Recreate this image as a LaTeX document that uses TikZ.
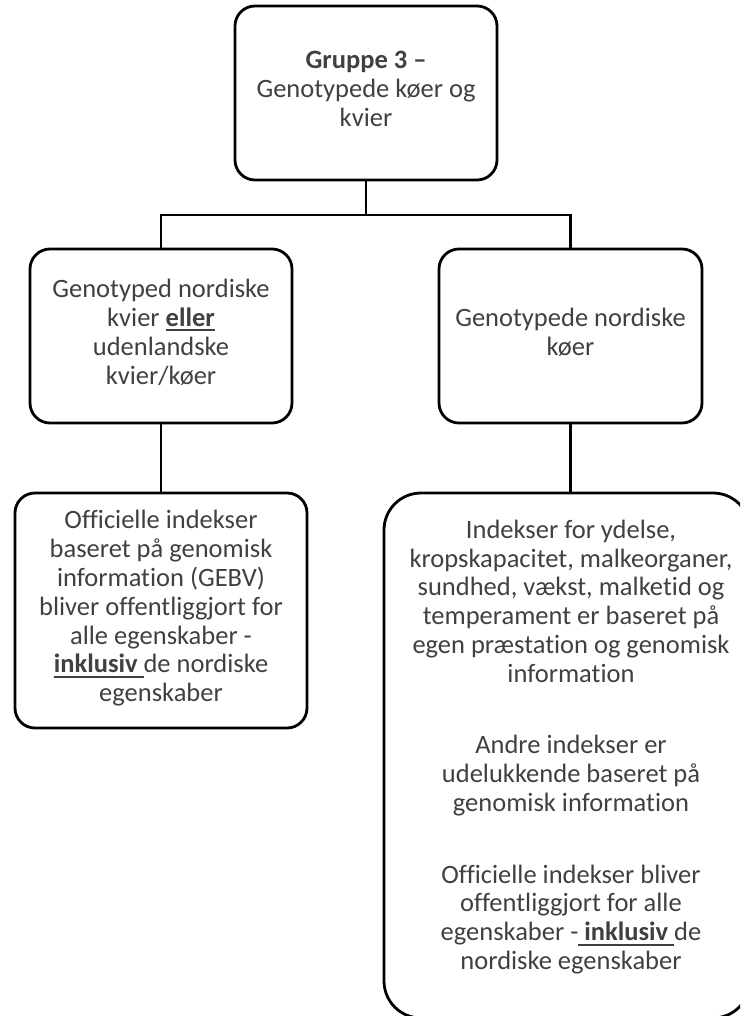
\documentclass[tikz,border=0pt]{standalone}
\usepackage{fontspec}
\setmainfont{Carlito}[Ligatures={NoCommon,NoRare,NoContextual}]
\usetikzlibrary{calc}
\definecolor{txtgray}{HTML}{404040}
\newcommand\myul[1]{\setbox0\hbox{#1}\rlap{\rule[-5pt]{\wd0}{2pt}}\box0}
\begin{document}
\begin{tikzpicture}[x=1pt,y=-1pt,
  box/.style={draw=black, line width=2.8pt, rounded corners=20pt, inner sep=0pt,
    align=center, text=txtgray, font={\fontsize{26.5}{28.8}\selectfont},
    execute at begin node=\strut, execute at end node=\strut},
  bigbox/.style={box, rounded corners=37pt},
  txt/.style={inner sep=0pt, align=center, text=txtgray, font={\fontsize{26.5}{28.8}\selectfont},
    execute at begin node=\strut, execute at end node=\strut},
  conn/.style={draw=black, line width=2.6pt}
]
\useasboundingbox (0,0) rectangle (740,1016);
\clip (0,0) rectangle (740,1016);

\node[box, minimum width=262pt, minimum height=174pt] (top) at (366,93)
  {\textbf{Gruppe 3 –}\\Genotypede køer og\\kvier};

\node[box, minimum width=262pt, minimum height=174pt] (l1) at (161,336)
  {Genotyped nordiske\\kvier \myul{\textbf{eller}}\\udenlandske\\kvier/køer};

\node[box, minimum width=263pt, minimum height=174pt] (r1) at (570.5,336)
  {Genotypede nordiske\\køer};

\node[box, minimum width=292pt, minimum height=235pt] (l2) at (161,610.5)
  {Officielle indekser\\baseret på genomisk\\information (GEBV)\\bliver offentliggjort for\\alle egenskaber -\\\myul{\textbf{inklusiv}\ }de nordiske\\egenskaber};

\node[bigbox, minimum width=366pt, minimum height=525pt] (r2) at (567,755.5) {};
\node[txt] (r2t) at (571,749)
  {Indekser for ydelse,\\kropskapacitet, malkeorganer,\\sundhed, vækst, malketid og\\temperament er baseret på\\egen præstation og genomisk\\information\\[42.5pt]Andre indekser er\\udelukkende baseret på\\genomisk information\\[43pt]Officielle indekser bliver\\offentliggjort for alle\\egenskaber -\myul{\ \textbf{inklusiv}\ }de\\nordiske egenskaber};

\coordinate (bus) at (366,215);
\draw[conn] (top.south) -- (bus);
\draw[conn] (l1.north) |- (bus) -| (r1.north);
\draw[conn] (l1.south) -- (l2.north);
\draw[conn] (r1.south) -- (r1.south |- r2.north);
\end{tikzpicture}
\end{document}
